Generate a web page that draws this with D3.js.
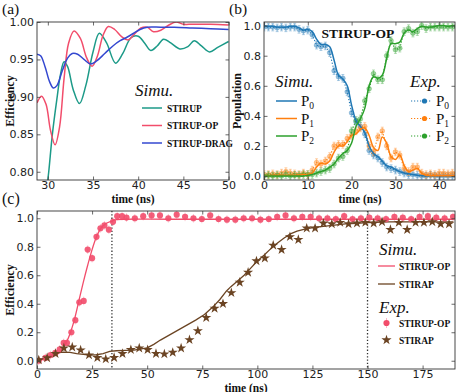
<!DOCTYPE html>
<html><head><meta charset="utf-8">
<script src="https://cdn.jsdelivr.net/npm/d3@7"></script>
<style>
body{margin:0;background:#fff}
svg text{font-family:"DejaVu Sans",sans-serif;fill:#222}
svg .ser{font-family:"Liberation Serif","DejaVu Serif",serif;fill:#111}
</style></head><body>
<svg id="fig" width="464" height="392"></svg>
<script>
// ---- panel (a): efficiency vs time, simulations only
var aTicksX=[30,35,40,45,50];
var aTicksY=[0.80,0.85,0.90,0.95,1.00];
var stirupT=[29.9,30.1,30.5,31.0,31.4,31.8,32.2,32.8,33.5,34.2,35.0,35.7,36.5,37.5,38.3,39.2,40.0,40.7,41.4,42.1,42.8,43.6,44.6,45.5,46.2,47.0,47.9,48.8,50.0];
var stirupV=[0.78,0.80,0.85,0.897,0.93,0.947,0.94,0.91,0.891,0.915,0.96,0.985,0.972,0.945,0.958,0.979,0.981,0.972,0.962,0.968,0.977,0.972,0.964,0.967,0.975,0.968,0.960,0.966,0.974];
var opT=[28.8,29.3,29.8,30.3,30.8,31.3,31.8,32.3,32.9,33.6,34.3,34.9,35.5,36.1,36.7,37.4,38.2,38.9,39.6,40.3,41.0,41.7,42.5,43.4,44.2,45.0,46.0,48.0,50.0];
var opV=[0.892,0.901,0.89,0.855,0.836,0.86,0.925,0.972,0.988,0.978,0.952,0.941,0.955,0.982,0.994,0.99,0.98,0.976,0.984,0.992,0.993,0.987,0.989,0.996,1.0,0.997,0.997,0.997,0.996];
var dragT=[28.8,29.2,29.7,30.2,30.6,31.0,31.6,32.2,32.7,33.3,34.0,34.7,35.4,36.3,37.2,38.0,38.8,39.5,40.2,41.0,42.5,44.0,46.0,48.0,50.0];
var dragV=[0.957,0.955,0.94,0.92,0.912,0.915,0.935,0.952,0.958,0.957,0.95,0.944,0.948,0.958,0.968,0.975,0.98,0.985,0.99,0.993,0.993,0.993,0.992,0.991,0.990];
var aNames=['STIRUP','STIRUP-OP','STIRUP-DRAG'];

// ---- panel (b): populations, STIRUP-OP
var bTicksX=[0,10,20,30,40];
var bTicksY=[0.0,0.2,0.4,0.6,0.8,1.0];
var bT=[0,1,2,3,4,5,6,7,8,9,10,11,12,13,14,15,16,17,18,19,20,21,22,23,24,25,26,27,28,29,30,31,32,33,34,35,36,37,38,39,40,41,42,43,44];
var p0Exp=[.99,.99,.99,.985,.99,.985,.99,.99,.975,.965,.97,.94,.87,.86,.865,.82,.70,.66,.65,.56,.42,.36,.33,.28,.17,.14,.12,.09,.06,.05,.04,.03,.02,.01,.01,.005,0,0,.005,0,0,0,0,0,0];
var p1Exp=[.01,.01,.015,.01,.02,.03,.02,.015,.01,.02,.01,.04,.09,.08,.10,.13,.20,.21,.21,.25,.27,.30,.32,.33,.20,.16,.26,.30,.20,.12,.16,.14,.05,.03,.06,.06,.02,.01,.015,.01,.02,.02,.015,.02,.02];
var p2Exp=[0,.005,0,.005,0,.01,0,.005,.005,.01,.01,.01,.02,.03,.04,.05,.08,.12,.13,.17,.30,.37,.38,.50,.58,.68,.64,.64,.80,.90,.84,.85,.96,.98,.95,.96,1.0,.98,.99,.99,.99,.99,.99,.99,.99];
var p0Sim=[1.0,.995,.995,.99,.99,.99,.995,.995,.985,.97,.975,.96,.91,.875,.875,.86,.77,.67,.645,.60,.47,.37,.33,.29,.20,.15,.13,.10,.07,.06,.045,.03,.02,.015,.01,.005,.003,0,0,0,0,0,0,0,0];
var p1Sim=[0,.003,.005,.005,.005,.005,.005,.005,.008,.01,.01,.02,.06,.085,.08,.10,.16,.20,.20,.23,.27,.28,.31,.32,.27,.19,.17,.26,.22,.13,.11,.14,.07,.03,.04,.05,.02,.005,.003,.003,.003,.003,.003,.003,.003];
var p2Sim=[0,0,0,0,0,0,0,0,0,0,.005,.01,.02,.03,.04,.06,.08,.12,.15,.17,.22,.33,.38,.45,.60,.66,.65,.67,.78,.88,.88,.89,.95,.97,.96,.98,.995,.99,.99,.995,1.0,1.0,.995,1.0,1.0];
var bErr=0.025;
var bColors=['#1f77b4','#ff7f0e','#2ca02c'];

// ---- panel (c): STIRUP-OP vs STIRAP
var cTicksX=[0,25,50,75,100,125,150,175];
var cTicksY=[0.0,0.2,0.4,0.6,0.8,1.0];
var cOpSimT=[0,3,6,9,11,13,15,17,19,21,23,25,27,29,31,33,36,40,60,100,189];
var cOpSimV=[0,.01,.025,.045,.07,.12,.19,.29,.42,.55,.67,.78,.87,.93,.96,.975,.99,.993,.993,.993,.993];
var cApSimT=[0,3,6,9,12,15,18,21,24,27,30,33,36,40,44,48,50,53,56,60,64,68,72,76,80,83,86,88,91,94,97,100,103,106,109,112,115,118,122,126,130,135,140,145,150,160,170,180,189];
var cApSimV=[0,.015,.035,.055,.06,.058,.05,.045,.04,.042,.05,.065,.07,.073,.075,.085,.09,.115,.145,.18,.215,.25,.285,.325,.38,.43,.49,.52,.56,.60,.65,.70,.74,.785,.825,.86,.89,.91,.925,.937,.943,.952,.96,.965,.97,.975,.975,.975,.975];
var cOpExpT=[0.8,3.8,6.1,8.3,10.3,12.1,13.6,15.6,17.4,19.2,21.2,23.0,25.0,27.0,28.8,30.6,32.6,34.5,36.4,38.6,40.6,44.4,48.2,52.0,55.8,59.6,63.4,67.2,71.0,74.8,78.6,82.4,86.2,90.0,93.8,97.6,101.4,105.2,109.0,112.8,116.6,120.4,124.2,128.0,131.8,135.6,139.4,143.2,147.0,150.8,154.6,158.4,162.2,166.0,169.8,173.6,177.4,181.2,185.0,188.8];
var cOpExpV=[0,.02,.04,.055,.08,.125,.125,.20,.285,.41,.42,.78,.72,.87,.93,.95,.92,.975,1.015,1.015,1.005,
  1.0,1.015,1.02,1.02,1.0,1.025,1.01,1.0,.995,1.02,.995,.99,.99,1.0,1.0,.99,.995,1.01,1.02,1.0,1.01,1.01,1.0,1.0,.995,1.015,.995,1.0,1.005,1.0,.995,1.01,1.005,.995,1.01,1.015,1.005,1.0,1.01];
var cOpErr=0.03;
var cApExpT=[0.8,4.6,8.4,12.2,16.0,19.8,23.6,27.4,31.2,35.0,38.8,42.6,46.4,50.2,54.0,57.8,61.6,65.4,69.2,73.0,76.8,80.6,84.4,88.2,92.0,95.8,99.6,103.4,107.2,111.0,114.8,118.6,122.4,126.2,130.0,133.8,137.6,141.4,145.2,149.0,152.8,156.6,160.4,164.2,168.0,171.8,175.6,179.4,183.2,187.0];
var cApExpV=[.005,.02,.05,.088,.095,.075,.04,.022,.012,.022,.05,.077,.088,.077,.05,.047,.058,.088,.147,.209,.302,.367,.40,.477,.55,.62,.70,.72,.81,.78,.87,.85,.93,.93,.965,.96,.97,.96,.965,.97,.965,.975,.92,.97,.92,.97,.97,.975,.96,.96];
var cMarks=[34,150];
var red='#f24d6b', brown='#6b4423';

var svg=d3.select('#fig');

function panel(id,L,R,T,B,xd,yd){
  var p={L:L,R:R,T:T,B:B};
  p.x=d3.scaleLinear().domain(xd).range([L,R]);
  p.y=d3.scaleLinear().domain(yd).range([B,T]);
  p.g=svg.append('g');
  svg.append('clipPath').attr('id',id).append('rect')
    .attr('x',L).attr('y',T).attr('width',R-L).attr('height',B-T);
  p.plot=p.g.append('g').attr('clip-path','url(#'+id+')');
  return p;
}

function axes(p,xt,yt,fy){
  var g=p.g;
  var ax=[
    [d3.axisBottom(p.x).tickValues(xt).tickFormat(d3.format('d')),p.B],
    [d3.axisTop(p.x).tickValues(xt).tickFormat(''),p.T]];
  ax.forEach(function(a){
    g.append('g').attr('transform','translate(0,'+a[1]+')')
      .call(a[0].tickSizeInner(-3.5).tickSizeOuter(0).tickPadding(1));
  });
  var ay=[
    [d3.axisLeft(p.y).tickValues(yt).tickFormat(d3.format(fy)),p.L],
    [d3.axisRight(p.y).tickValues(yt).tickFormat(''),p.R]];
  ay.forEach(function(a){
    g.append('g').attr('transform','translate('+a[1]+',0)')
      .call(a[0].tickSizeInner(-3.5).tickSizeOuter(0).tickPadding(3));
  });
  g.selectAll('.domain').remove();
  g.selectAll('.tick line').attr('stroke','#444').attr('stroke-width',0.8);
  g.selectAll('.tick text').style('font-size','11px').attr('fill','#222');
  g.append('rect').attr('x',p.L).attr('y',p.T).attr('width',p.R-p.L).attr('height',p.B-p.T)
    .attr('fill','none').attr('stroke','#333').attr('stroke-width',0.9);
}

function line(p,T,V,col,w,curve){
  return p.plot.append('path').datum(T.map(function(t,i){return [t,V[i]];}))
    .attr('d',d3.line().x(function(d){return p.x(d[0]);}).y(function(d){return p.y(d[1]);}).curve(curve||d3.curveCatmullRom))
    .attr('fill','none').attr('stroke',col).attr('stroke-width',w);
}

function stext(x,y,s,size,weight,style,anchor,rot){
  var t=svg.append('text').attr('class','ser').attr('x',x).attr('y',y)
    .style('font-size',size+'px').style('font-weight',weight||'normal')
    .style('font-style',style||'normal').attr('text-anchor',anchor||'start').text(s);
  if(rot) t.attr('transform','rotate(-90,'+x+','+y+')');
  return t;
}

// ===== (a)
var pa=panel('ca',37,229,22,180,[28.8,50.05],[0.789,1.0]);
axes(pa,aTicksX,aTicksY,'.2f');
var aCols=['#1c9a88',red,'#3448d0'];
line(pa,stirupT,stirupV,aCols[0],1.5);
line(pa,opT,opV,aCols[1],1.5);
line(pa,dragT,dragV,aCols[2],1.5);
stext(2,13.5,'(a)',15.5);
stext(133,202.5,'time (ns)',11.5,'bold',null,'middle');
stext(14,101,'Efficiency',12,'bold',null,'middle',true);
stext(135,96,'Simu.',17,null,'italic');
aNames.forEach(function(n,i){
  var y=108+i*17.5;
  svg.append('line').attr('x1',142).attr('x2',162).attr('y1',y).attr('y2',y).attr('stroke',aCols[i]).attr('stroke-width',1.5);
  stext(167,y+3.5,n,9.5,'bold');
});

// ===== (b)
var pb=panel('cb',264,455,22,180,[0,43.6],[-0.026,1.024]);
axes(pb,bTicksX,bTicksY,'.1f');
var exps=[p0Exp,p1Exp,p2Exp], sims=[p0Sim,p1Sim,p2Sim];
exps.forEach(function(V,k){
  var col=bColors[k];
  line(pb,bT,V,col,1.1,d3.curveLinear).attr('stroke-dasharray','1.2,1.8');
  var pts=bT.map(function(t,i){return [t,V[i]];});
  var eb=pb.plot.append('g').attr('stroke',col).attr('stroke-opacity',0.45).attr('stroke-width',0.8);
  eb.selectAll(null).data(pts).enter().append('line')
    .attr('x1',function(d){return pb.x(d[0]);}).attr('x2',function(d){return pb.x(d[0]);})
    .attr('y1',function(d){return pb.y(d[1]-bErr);}).attr('y2',function(d){return pb.y(d[1]+bErr);});
  [-1,1].forEach(function(s){
    eb.selectAll(null).data(pts).enter().append('line')
      .attr('x1',function(d){return pb.x(d[0])-1.5;}).attr('x2',function(d){return pb.x(d[0])+1.5;})
      .attr('y1',function(d){return pb.y(d[1]+s*bErr);}).attr('y2',function(d){return pb.y(d[1]+s*bErr);});
  });
  pb.plot.append('g').selectAll('circle').data(pts).enter().append('circle')
    .attr('cx',function(d){return pb.x(d[0]);}).attr('cy',function(d){return pb.y(d[1]);})
    .attr('r',2.4).attr('fill',col).attr('fill-opacity',0.45).attr('stroke',col).attr('stroke-opacity',0.5).attr('stroke-width',0.6);
});
sims.forEach(function(V,k){ line(pb,bT,V,bColors[k],1.5); });
stext(229,13.5,'(b)',15.5);
stext(358,38,'STIRUP-OP',13.5,'bold',null,'middle');
stext(360,202.5,'time (ns)',11.5,'bold',null,'middle');
stext(241,101,'Population',12,'bold',null,'middle',true);
stext(275,87,'Simu.',17,null,'italic');
stext(410,87,'Exp.',17,null,'italic');
[0,1,2].forEach(function(k){
  var y=101+k*17.5, col=bColors[k];
  svg.append('line').attr('x1',276).attr('x2',297).attr('y1',y).attr('y2',y).attr('stroke',col).attr('stroke-width',1.5);
  var t=stext(301,y+5,'P',15); t.append('tspan').attr('dy',3).style('font-size','9.5px').text(k);
  svg.append('line').attr('x1',411).attr('x2',431).attr('y1',y).attr('y2',y).attr('stroke',col).attr('stroke-width',1.1).attr('stroke-dasharray','1.2,1.8');
  svg.append('circle').attr('cx',424.5).attr('cy',y).attr('r',2.6).attr('fill',col);
  var t2=stext(436,y+5,'P',15); t2.append('tspan').attr('dy',3).style('font-size','9.5px').text(k);
});

// ===== (c)
var pc=panel('cc',37,455,211,369,[0,189.7],[-0.058,1.051]);
axes(pc,cTicksX,cTicksY,'.1f');
cMarks.forEach(function(m){
  pc.plot.append('line').attr('x1',pc.x(m)).attr('x2',pc.x(m)).attr('y1',pc.T).attr('y2',pc.B)
    .attr('stroke','#333').attr('stroke-width',1.3).attr('stroke-dasharray','1.3,2');
});
line(pc,cOpSimT,cOpSimV,red,1.3);
line(pc,cApSimT,cApSimV,brown,1.3,d3.curveLinear);
var opPts=cOpExpT.map(function(t,i){return [t,cOpExpV[i]];});
var ebc=pc.plot.append('g').attr('stroke',red).attr('stroke-opacity',0.4).attr('stroke-width',0.8);
ebc.selectAll(null).data(opPts).enter().append('line')
  .attr('x1',function(d){return pc.x(d[0]);}).attr('x2',function(d){return pc.x(d[0]);})
  .attr('y1',function(d){return pc.y(d[1]-cOpErr);}).attr('y2',function(d){return pc.y(d[1]+cOpErr);});
pc.plot.append('g').selectAll('circle').data(opPts).enter().append('circle')
  .attr('cx',function(d){return pc.x(d[0]);}).attr('cy',function(d){return pc.y(d[1]);})
  .attr('r',3.1).attr('fill',red).attr('fill-opacity',0.9);
var star=d3.symbol().type(d3.symbolStar).size(32);
pc.plot.append('g').selectAll('path').data(cApExpT.map(function(t,i){return [t,cApExpV[i]];})).enter().append('path')
  .attr('d',star).attr('transform',function(d){return 'translate('+pc.x(d[0])+','+pc.y(d[1])+')';})
  .attr('fill',brown);
stext(2,204,'(c)',16);
stext(246,391.5,'time (ns)',11.5,'bold',null,'middle');
stext(14,290,'Efficiency',12,'bold',null,'middle',true);
stext(379,255,'Simu.',17,null,'italic');
stext(379,313,'Exp.',17,null,'italic');
[[red,'STIRUP-OP',266],[brown,'STIRAP',284]].forEach(function(d){
  svg.append('line').attr('x1',378).attr('x2',395).attr('y1',d[2]).attr('y2',d[2]).attr('stroke',d[0]).attr('stroke-width',1.3);
  stext(399,d[2]+3.5,d[1],9.5,'bold');
});
svg.append('line').attr('x1',386.5).attr('x2',386.5).attr('y1',318).attr('y2',328).attr('stroke',red).attr('stroke-opacity',0.4);
svg.append('circle').attr('cx',386.5).attr('cy',323).attr('r',3.1).attr('fill',red);
stext(399,326.5,'STIRUP-OP',9.5,'bold');
svg.append('path').attr('d',star).attr('transform','translate(386.5,340)').attr('fill',brown);
stext(399,343.5,'STIRAP',9.5,'bold');
</script></body></html>
